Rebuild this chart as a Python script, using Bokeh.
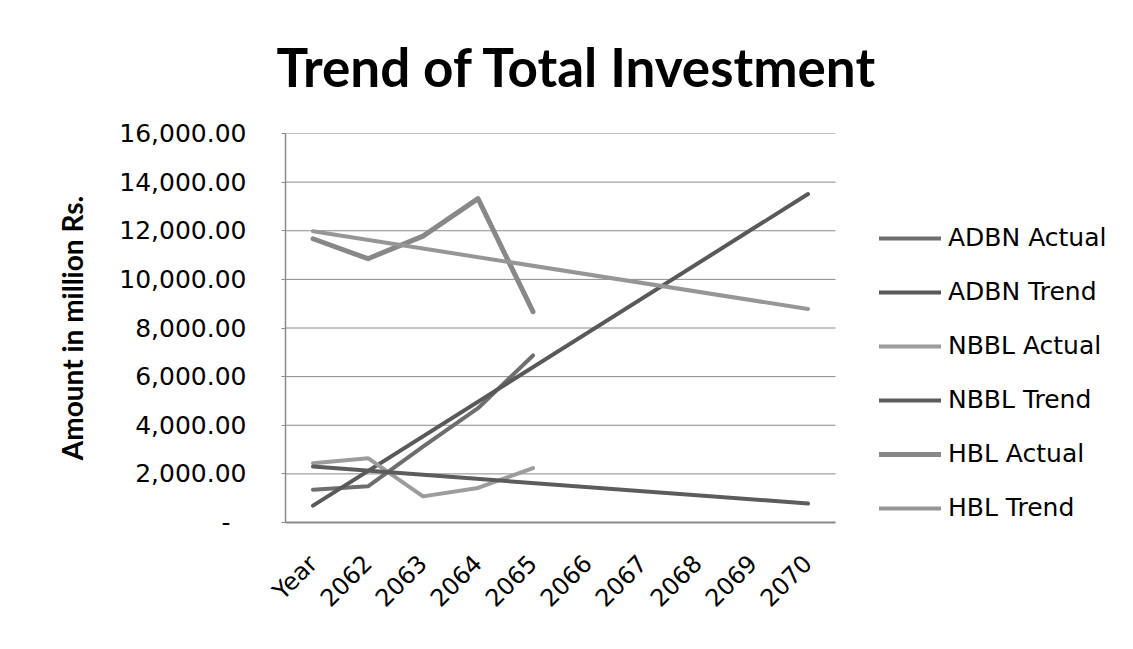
import math
from bokeh.plotting import figure
from bokeh.models import Range1d, FixedTicker, Legend, LegendItem, Title
from bokeh.embed import file_html
from bokeh.resources import INLINE

# ---------------- data ----------------
categories = ["Year", "2062", "2063", "2064", "2065", "2066", "2067", "2068", "2069", "2070"]
actual_years = ["Year", "2062", "2063", "2064", "2065"]
trend_years = ["Year", "2070"]

adbn_actual = [1350, 1490, 3120, 4700, 6870]
adbn_trend = [695, 13510]
nbbl_actual = [2440, 2645, 1075, 1420, 2240]
nbbl_trend = [2300, 780]
hbl_actual = [11670, 10850, 11780, 13320, 8670]
hbl_trend = [11980, 8780]

y_ticks = [0, 2000, 4000, 6000, 8000, 10000, 12000, 14000, 16000]
y_tick_labels = ["-\u00a0\u00a0", "2,000.00", "4,000.00", "6,000.00", "8,000.00",
                 "10,000.00", "12,000.00", "14,000.00", "16,000.00"]

title_text = "Trend of Total Investment"
y_label = "Amount in million Rs."

# category -> position on a numeric axis (centre of each category slot)
cat_pos = {c: i + 0.5 for i, c in enumerate(categories)}
n_cat = len(categories)

# ---------------- figure ----------------
W, H = 1115, 627
ML, MR, MT, MB = 285, 0, 131, 105
frame_w = W - ML - MR
cat_px = 55.0  # pixel width of one category slot
x_end = frame_w / cat_px

p = figure(width=W, height=H, output_backend="svg", toolbar_location=None,
           x_range=Range1d(0, x_end), y_range=Range1d(0, 16000),
           min_border_left=ML, min_border_right=MR, min_border_top=MT,
           min_border_bottom=MB, outline_line_color=None,
           background_fill_color="white", border_fill_color="white")

t = Title(text=title_text, text_font="Lato", text_font_size="53px",
          text_font_style="bold", text_color="black", align="left",
          offset=-9, vertical_align="top", standoff=68)
p.add_layout(t, "above")

# horizontal gridlines limited to the category area
p.segment(x0=[0] * (len(y_ticks) - 1), x1=[n_cat] * (len(y_ticks) - 1),
          y0=y_ticks[1:], y1=y_ticks[1:], line_color="#8a8a8a", line_width=1)

series = [
    ("ADBN Actual", actual_years, adbn_actual, "#6e6e6e", 4),
    ("ADBN Trend", trend_years, adbn_trend, "#595959", 4),
    ("NBBL Actual", actual_years, nbbl_actual, "#9c9c9c", 4),
    ("NBBL Trend", trend_years, nbbl_trend, "#5c5c5c", 4),
    ("HBL Actual", actual_years, hbl_actual, "#888888", 5),
    ("HBL Trend", trend_years, hbl_trend, "#969696", 4),
]
items = []
for name, xs, ys, color, w in series:
    r = p.line(x=[cat_pos[c] for c in xs], y=ys, line_color=color, line_width=w,
               line_join="round", line_cap="round")
    items.append(LegendItem(label=name, renderers=[r]))

legend = Legend(items=items, location=(594, 0), glyph_width=62, glyph_height=20,
                label_height=20, spacing=25, label_standoff=7, padding=0, margin=0,
                border_line_color=None, background_fill_alpha=0,
                label_text_font="DejaVu Sans", label_text_font_size="25px",
                label_text_color="black")
p.add_layout(legend, "center")

# axes
p.yaxis.ticker = FixedTicker(ticks=y_ticks)
p.yaxis.major_label_overrides = {tk: lb for tk, lb in zip(y_ticks, y_tick_labels)}
p.yaxis.major_label_text_font = "DejaVu Sans"
p.yaxis.major_label_text_font_size = "25px"
p.yaxis.major_label_text_color = "black"
p.yaxis.major_label_standoff = 35
p.yaxis.major_tick_out = 4
p.yaxis.major_tick_in = 0
p.yaxis.minor_tick_line_color = None
p.yaxis.major_tick_line_color = "#8a8a8a"
p.yaxis.axis_line_color = "#8a8a8a"
p.yaxis.axis_line_width = 1.5
p.yaxis.axis_label = y_label
p.yaxis.axis_label_text_font = "Lato"
p.yaxis.axis_label_text_font_style = "bold"
p.yaxis.axis_label_text_font_size = "28px"
p.yaxis.axis_label_text_color = "black"
p.yaxis.axis_label_standoff = 27

x_ticks = [cat_pos[c] for c in categories]
p.xaxis.ticker = FixedTicker(ticks=x_ticks)
p.xaxis.major_label_overrides = {cat_pos[c]: c for c in categories}
p.xaxis.bounds = (0, n_cat)
p.xaxis.major_label_orientation = math.pi / 4
p.xaxis.major_label_text_font = "DejaVu Sans"
p.xaxis.major_label_text_font_size = "24px"
p.xaxis.major_label_text_color = "black"
p.xaxis.major_label_standoff = 37
p.xaxis.major_tick_out = 0
p.xaxis.major_tick_in = 0
p.xaxis.minor_tick_line_color = None
p.xaxis.axis_line_color = "#8a8a8a"
p.xaxis.axis_line_width = 2

p.xgrid.grid_line_color = None
p.ygrid.grid_line_color = None

open("out.html", "w").write(file_html(p, INLINE))
